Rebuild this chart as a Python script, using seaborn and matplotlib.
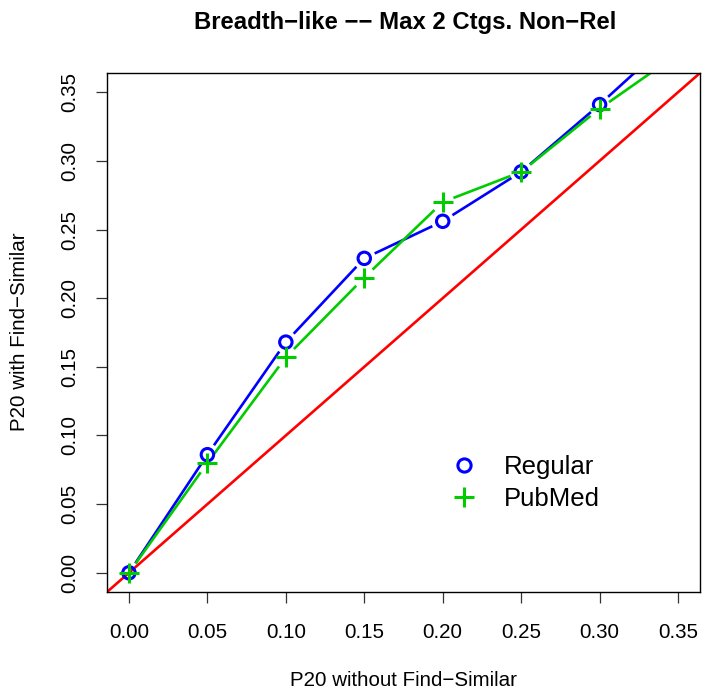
import numpy as np
import pandas as pd
import matplotlib
matplotlib.use("Agg")
import matplotlib.pyplot as plt
import seaborn as sns
from matplotlib.lines import Line2D

# ---- data ----
x_vals = [0.00, 0.05, 0.10, 0.15, 0.20, 0.25, 0.30, 0.35]
regular = [0.000, 0.086, 0.168, 0.229, 0.256, 0.292, 0.341, 0.393]
pubmed = [0.000, 0.080, 0.157, 0.215, 0.270, 0.292, 0.338, 0.378]
series_names = ["Regular", "PubMed"]
ticks = [0.00, 0.05, 0.10, 0.15, 0.20, 0.25, 0.30, 0.35]
tick_labels = ["0.00", "0.05", "0.10", "0.15", "0.20", "0.25", "0.30", "0.35"]

title = "Breadth\u2212like \u2212\u2212 Max 2 Ctgs. Non\u2212Rel"
xlabel = "P20 without Find\u2212Similar"
ylabel = "P20 with Find\u2212Similar"

sns.set_style("white")
plt.rcParams["font.family"] = ["Liberation Sans", "DejaVu Sans"]
plt.rcParams["text.color"] = "black"
plt.rcParams["axes.labelcolor"] = "black"
plt.rcParams["xtick.color"] = "black"
plt.rcParams["ytick.color"] = "black"

fig = plt.figure(figsize=(7.02, 6.91), dpi=100)
ax = fig.add_axes([107 / 702, 1 - 592 / 691, (700 - 107) / 702, (592 - 73) / 691])

lo, hi = 0.0, 0.35
ext = (hi - lo) * 0.04
ax.set_xlim(lo - ext, hi + ext)
ax.set_ylim(lo - ext, hi + ext)

df = pd.DataFrame({
    "x": x_vals * 2,
    "y": regular + pubmed,
    "series": [series_names[0]] * len(x_vals) + [series_names[1]] * len(x_vals),
})

colors = {"Regular": "#0000ff", "PubMed": "#00cc00"}

fig.canvas.draw()
gap = 11.5  # pixels


def gapped_line(xs, ys, color):
    pts = ax.transData.transform(np.column_stack([xs, ys]))
    inv = ax.transData.inverted()
    for i in range(len(pts) - 1):
        p0, p1 = pts[i], pts[i + 1]
        d = p1 - p0
        L = np.hypot(*d)
        if L <= 2 * gap:
            continue
        u = d / L
        a = inv.transform(p0 + u * gap)
        b = inv.transform(p1 - u * gap)
        ax.plot([a[0], b[0]], [a[1], b[1]], color=color, lw=1.9, solid_capstyle="butt")


for name in series_names:
    sub = df[df.series == name]
    gapped_line(sub.x.values, sub.y.values, colors[name])

# markers
sns.scatterplot(data=df[df.series == "Regular"], x="x", y="y", ax=ax, s=80,
                facecolors="none", edgecolor=colors["Regular"], linewidth=2.2,
                zorder=3, legend=False)
sns.scatterplot(data=df[df.series == "PubMed"], x="x", y="y", ax=ax, s=190, marker="+",
                color=colors["PubMed"], linewidth=2.2, zorder=4, legend=False)

# diagonal reference
ax.plot([lo - ext, hi + ext], [lo - ext, hi + ext], color="#ff0000", lw=1.9, zorder=2)

ax.set_xlim(lo - ext, hi + ext)
ax.set_ylim(lo - ext, hi + ext)
ax.set_xticks(ticks)
ax.set_xticklabels(tick_labels)
ax.set_yticks(ticks)
ax.set_yticklabels(tick_labels, rotation=90, va="center")
ax.tick_params(axis="both", direction="out", length=8, width=0.9, color="#333333",
               labelsize=14.8, left=True, bottom=True)
ax.tick_params(axis="x", pad=14)
ax.tick_params(axis="y", pad=12)
for s in ax.spines.values():
    s.set_visible(True)
    s.set_color("black")
    s.set_linewidth(1.0)

ax.set_xlabel(xlabel, fontsize=14.8, va="center")
ax.set_ylabel(ylabel, fontsize=14.8, va="center")
ax.xaxis.set_label_coords(403 / 702, 1 - 681 / 691, transform=fig.transFigure)
ax.yaxis.set_label_coords(20 / 702, 1 - 332 / 691, transform=fig.transFigure)
fig.text(405 / 702, 1 - 22 / 691, title, ha="center", va="center", fontsize=17.2, fontweight="bold")

handles = [
    Line2D([], [], linestyle="none", marker="o", markersize=9.5, markerfacecolor="none",
           markeredgecolor=colors["Regular"], markeredgewidth=2.2),
    Line2D([], [], linestyle="none", marker="+", markersize=14,
           markeredgecolor=colors["PubMed"], markeredgewidth=2.2),
]
ax.legend(handles, series_names, loc="center left", bbox_to_anchor=(437 / 702, 1 - 483 / 691),
          bbox_transform=fig.transFigure, frameon=False, fontsize=18.5, handlelength=1.1,
          handletextpad=1.0, labelspacing=0.3, borderpad=0)

fig.savefig("out.png", dpi=100)
